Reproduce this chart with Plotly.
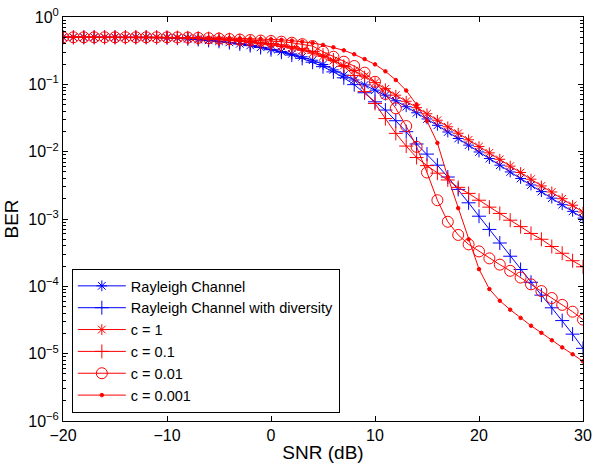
import plotly.graph_objects as go

snr = list(range(-20, 31))

# BER curves (one value per dB, -20 .. 30)
rayleigh = [0.5, 0.5, 0.5, 0.5, 0.5, 0.5, 0.5, 0.5, 0.5,
            0.497, 0.493, 0.486, 0.477, 0.462, 0.45, 0.436, 0.42, 0.40, 0.378, 0.355,
            0.331, 0.307, 0.283, 0.257, 0.228, 0.197, 0.164, 0.137, 0.116, 0.098,
            0.082, 0.069, 0.057, 0.0465, 0.0378, 0.0306, 0.0246, 0.0196, 0.0157, 0.0125,
            0.0099, 0.0079, 0.0063, 0.005, 0.004, 0.0032, 0.00255, 0.00204, 0.00163, 0.0013,
            0.00103]
diversity = [0.5, 0.5, 0.5, 0.5, 0.5, 0.5, 0.5, 0.5, 0.5,
             0.497, 0.492, 0.485, 0.475, 0.463, 0.45, 0.435, 0.418, 0.398, 0.376, 0.352,
             0.327, 0.3, 0.272, 0.243, 0.213, 0.183, 0.153, 0.125, 0.099, 0.075,
             0.055, 0.0415, 0.0288, 0.0198, 0.013, 0.0092, 0.0063, 0.0042, 0.00275, 0.00174,
             0.0011, 0.0007, 0.00044, 0.00028, 0.000178, 0.000115, 0.000074, 0.000048, 0.000031, 0.0000195,
             0.000012]
c1 = [0.5, 0.5, 0.5, 0.5, 0.5, 0.5, 0.5, 0.5, 0.5, 0.5,
      0.497, 0.493, 0.487, 0.48, 0.47, 0.46, 0.45, 0.435, 0.42, 0.40,
      0.385, 0.365, 0.345, 0.32, 0.29, 0.26, 0.225, 0.19, 0.16, 0.132,
      0.106, 0.086, 0.069, 0.056, 0.045, 0.0365, 0.0293, 0.0234, 0.0188, 0.015,
      0.0119, 0.0096, 0.0077, 0.0061, 0.0049, 0.0039, 0.0031, 0.00252, 0.002, 0.0016,
      0.00127]
c01 = [0.5, 0.5, 0.5, 0.5, 0.5, 0.5, 0.5, 0.5, 0.5, 0.5,
       0.498, 0.495, 0.49, 0.485, 0.478, 0.47, 0.46, 0.448, 0.435, 0.42,
       0.403, 0.385, 0.363, 0.338, 0.308, 0.272, 0.23, 0.185, 0.135, 0.078,
       0.052, 0.031, 0.0187, 0.0121, 0.0082, 0.0062, 0.0048, 0.0038, 0.00295, 0.0024,
       0.0019, 0.0015, 0.00121, 0.00096, 0.00077, 0.00061, 0.0005, 0.00039, 0.00031, 0.00024,
       0.000195]
c001 = [0.5, 0.5, 0.5, 0.5, 0.5, 0.5, 0.5, 0.5, 0.5, 0.5,
        0.5, 0.498, 0.495, 0.49, 0.485, 0.478, 0.47, 0.462, 0.455, 0.447,
        0.44, 0.43, 0.415, 0.395, 0.37, 0.305, 0.257, 0.217, 0.187, 0.149,
        0.109, 0.072, 0.044, 0.024, 0.0118, 0.0049, 0.0019, 0.00091, 0.00058, 0.00042,
        0.00033, 0.00026, 0.00021, 0.00017, 0.000135, 0.000107, 0.000085, 0.000067, 0.000053, 0.000042,
        0.000032]
c0001 = [0.5, 0.5, 0.5, 0.5, 0.5, 0.5, 0.5, 0.5, 0.5, 0.5,
         0.5, 0.5, 0.499, 0.497, 0.494, 0.49, 0.486, 0.482, 0.477, 0.472,
         0.466, 0.458, 0.446, 0.43, 0.41, 0.385, 0.355, 0.32, 0.28, 0.237,
         0.198, 0.156, 0.116, 0.081, 0.05, 0.0285, 0.0135, 0.0042, 0.00145, 0.0005,
         0.00018, 0.000091, 0.000061, 0.000045, 0.000034, 0.000026, 0.0000204, 0.0000158, 0.0000124, 0.0000098,
         0.0000077]

names = ["Rayleigh Channel", "Rayleigh Channel with diversity",
         "c = 1", "c = 0.1", "c = 0.01", "c = 0.001"]
series = [rayleigh, diversity, c1, c01, c001, c0001]
colors = ["#0000ff", "#0000ff", "#ff0000", "#ff0000", "#ff0000", "#ff0000"]
symbols = ["asterisk-open", "cross-thin-open", "asterisk-open",
           "cross-thin-open", "circle-open", "circle"]
sizes = [9, 10, 9, 10, 11, 3.5]

fig = go.Figure()
for name, ys, col, sym, sz in zip(names, series, colors, symbols, sizes):
    fig.add_trace(go.Scatter(x=snr, y=ys, name=name, mode="lines+markers",
                             line=dict(color=col, width=1),
                             marker=dict(symbol=sym, size=sz, color=col,
                                         line=dict(color=col, width=1))))

minor_vals = [k * 10.0 ** e for e in range(-6, 0) for k in range(2, 10)]
font = dict(family="Liberation Sans, Arial, sans-serif", size=16, color="black")

fig.update_layout(
    width=592, height=466,
    margin=dict(l=63, r=9, t=17, b=45, autoexpand=False),
    paper_bgcolor="white", plot_bgcolor="white",
    font=font,
    showlegend=True,
    legend=dict(x=0.017, y=0.02, xanchor="left", yanchor="bottom",
                bgcolor="white", bordercolor="black", borderwidth=1,
                font=dict(family=font["family"], size=14.5, color="black"),
                tracegroupgap=0, itemwidth=48),
)
fig.update_xaxes(range=[-20, 30], tickvals=[-20, -10, 0, 10, 20, 30],
                 ticktext=["\u221220", "\u221210", "0", "10", "20", "30"],
                 ticks="inside", ticklen=5, tickcolor="black",
                 showline=True, linecolor="black", linewidth=1, mirror="ticks",
                 showgrid=False, zeroline=False, automargin=False,
                 title=dict(text="SNR (dB)", standoff=2))
fig.update_yaxes(type="log", range=[-6, 0],
                 tickvals=[1e-6, 1e-5, 1e-4, 1e-3, 1e-2, 1e-1, 1],
                 ticktext=["10<sup>\u22126</sup>", "10<sup>\u22125</sup>", "10<sup>\u22124</sup>",
                           "10<sup>\u22123</sup>", "10<sup>\u22122</sup>", "10<sup>\u22121</sup>",
                           "10<sup>0</sup>"],
                 ticks="inside", ticklen=5, tickcolor="black",
                 minor=dict(tickvals=minor_vals, ticks="inside", ticklen=3, tickcolor="black"),
                 showline=True, linecolor="black", linewidth=1, mirror="ticks",
                 showgrid=False, zeroline=False, automargin=False,
                 title=dict(text="BER", standoff=4))

fig.write_html("out.html", config={"displayModeBar": False},
               post_script="document.body.style.margin='0';")
